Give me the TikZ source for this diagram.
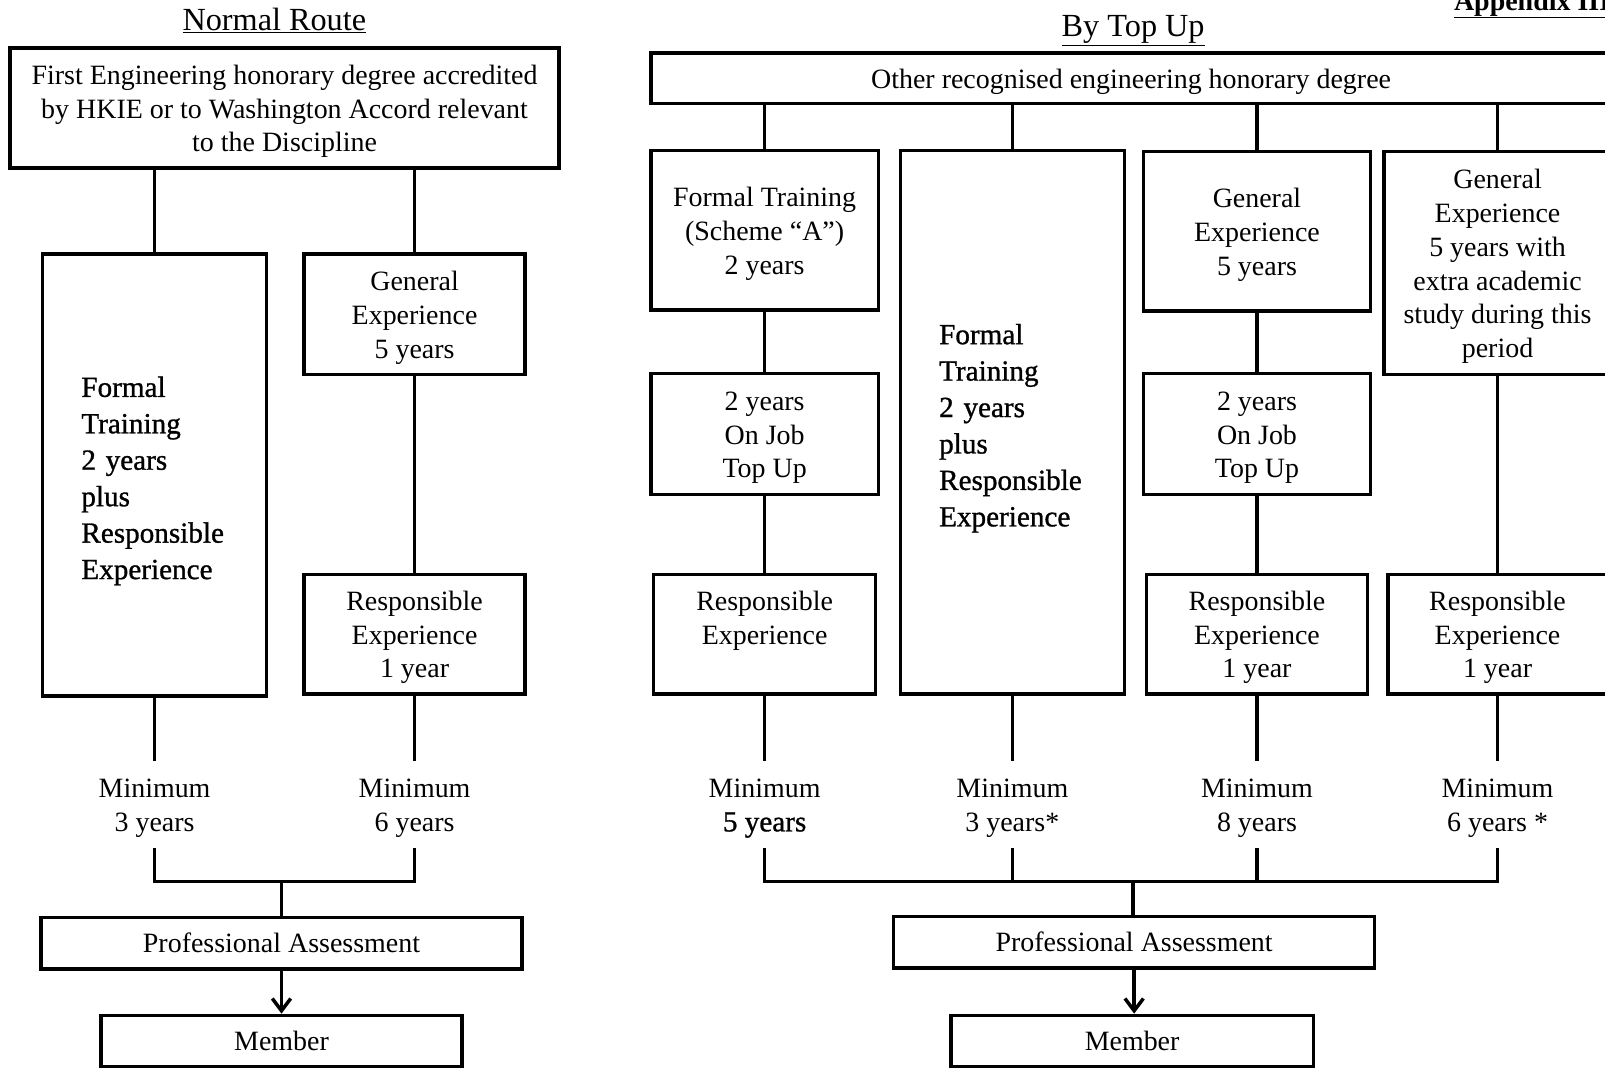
\documentclass[tikz,border=0pt]{standalone}
\usepackage{fontspec}
\setmainfont{Liberation Serif}
\newfontfamily\heavyfont[FakeBold=1.0]{Liberation Serif}
\usetikzlibrary{arrows.meta}
\newcommand{\toppad}{\rule{0pt}{25.5pt}}

\begin{document}
\begin{tikzpicture}[x=1pt, y=-1pt,
    font=\fontsize{27.3}{33}\selectfont,
    box/.style={draw, line width=3.4pt, align=center, inner sep=0pt},
    bigbox/.style={box, font=\heavyfont\fontsize{28.5}{35.6}\selectfont,
      align=left, text width=143pt, inner xsep=38pt,
      execute at begin node={\rule{0pt}{31.5pt}}},
    minlabel/.style={align=center, inner sep=0pt, minimum height=84pt},
    heading/.style={anchor=base, font=\fontsize{31.5}{36}\selectfont},
    link/.style={line width=3.4pt}]
  \useasboundingbox (0,0) rectangle (1568,1043);
  \clip (0,0) rectangle (1568,1043);

  % normal route
  \node[heading] (routeA) at (268,30) {\underline{Normal Route}};
  \node[box, minimum width=536pt, minimum height=117pt] (degA) at (278,105.5)
    {\toppad First Engineering honorary degree accredited\\by HKIE or to Washington Accord relevant\\to the Discipline};
  \node[bigbox, minimum height=432pt] (trainA) at (151,464)
    {Formal\\Training\\2 years\\plus\\Responsible\\Experience};
  \node[box, minimum width=216pt, minimum height=118pt] (genA) at (405,307) {\toppad General\\Experience\\5 years};
  \node[box, minimum width=216pt, minimum height=117pt] (respA) at (405,619.5) {\toppad Responsible\\Experience\\1 year};
  \node[minlabel] (minA1) at (151,786) {\toppad Minimum\\3 years};
  \node[minlabel] (minA2) at (405,786) {\toppad Minimum\\6 years};
  \coordinate (joinA) at (275,861);
  \node[box, minimum width=470pt, minimum height=50pt] (assessA) at (275,921.5) {Professional Assessment};
  \node[box, minimum width=353pt, minimum height=50pt] (memberA) at (275,1017) {Member};

  \draw[link] (trainA |- degA.south) -- (trainA.north);
  \draw[link] (genA |- degA.south) -- (genA.north);
  \draw[link] (genA) -- (respA);
  \draw[link] (trainA) -- (minA1);
  \draw[link] (respA) -- (minA2);
  \draw[link] (minA1.south) |- (joinA) -| (minA2.south);
  \draw[link] (joinA) -- (assessA);
  \draw[link, -{Straight Barb[length=12pt, width=18pt]}] (assessA) -- (memberA);

  % by top up
  \node[heading] (routeB) at (1107,36) {\underline{By Top Up}};
  \node[anchor=base west, font=\bfseries\fontsize{27.3}{33}\selectfont] (appx) at (1417,10) {\underline{Appendix III}};
  \node[box, minimum width=938pt, minimum height=49pt] (degB) at (1105,76.5) {\toppad Other recognised engineering honorary degree};
  \node[box, minimum width=222pt, minimum height=156pt] (schemeB) at (747,225) {\toppad Formal Training\\(Scheme “A”)\\2 years};
  \node[box, minimum width=222pt, minimum height=118pt] (jobB) at (747,424) {\toppad 2 years\\On Job\\Top Up};
  \node[box, minimum width=217pt, minimum height=117pt] (respB) at (747,619.5) {\toppad Responsible\\Experience\\\rule[-6pt]{0pt}{18pt}};
  \node[bigbox, minimum height=531pt] (trainB) at (989,412.5)
    {Formal\\Training\\2 years\\plus\\Responsible\\Experience};
  \node[box, minimum width=222pt, minimum height=156pt] (genC) at (1228,226) {\toppad General\\Experience\\5 years};
  \node[box, minimum width=222pt, minimum height=118pt] (jobC) at (1228,424) {\toppad 2 years\\On Job\\Top Up};
  \node[box, minimum width=216pt, minimum height=117pt] (respC) at (1228,619.5) {\toppad Responsible\\Experience\\1 year};
  \node[box, minimum width=222pt, minimum height=218pt] (genD) at (1463,257)
    {\toppad General\\Experience\\5 years with\\extra academic\\study during this\\period};
  \node[box, minimum width=214pt, minimum height=117pt] (respD) at (1463,619.5) {\toppad Responsible\\Experience\\1 year};
  \node[minlabel] (minB) at (747,786) {\toppad Minimum\\{\heavyfont\fontsize{28.5}{33}\selectfont 5 years\hspace{14pt}}};
  \node[minlabel] (minC) at (989,786) {\toppad Minimum\\3 years*};
  \node[minlabel] (minD) at (1228,786) {\toppad Minimum\\8 years};
  \node[minlabel] (minE) at (1463,786) {\toppad Minimum\\6 years *};
  \coordinate (joinB) at (1107,861);
  \node[box, minimum width=470pt, minimum height=50pt] (assessB) at (1108,920.5) {Professional Assessment};
  \node[box, minimum width=354pt, minimum height=50pt] (memberB) at (1106,1017) {Member};

  \draw[link] (schemeB |- degB.south) -- (schemeB.north);
  \draw[link] (trainB |- degB.south) -- (trainB.north);
  \draw[link] (genC |- degB.south) -- (genC.north);
  \draw[link] (genD |- degB.south) -- (genD.north);
  \draw[link] (schemeB) -- (jobB);
  \draw[link] (jobB) -- (respB);
  \draw[link] (genC) -- (jobC);
  \draw[link] (jobC) -- (respC);
  \draw[link] (genD) -- (respD);
  \draw[link] (respB) -- (minB);
  \draw[link] (trainB) -- (minC);
  \draw[link] (respC) -- (minD);
  \draw[link] (respD) -- (minE);
  \draw[link] (minB.south) |- (joinB) -| (minE.south);
  \draw[link] (minC.south) -- (minC.south |- joinB);
  \draw[link] (minD.south) -- (minD.south |- joinB);
  \draw[link] (joinB) -- (joinB |- assessB.north);
  \draw[link, -{Straight Barb[length=12pt, width=18pt]}] (assessB.south) -- (assessB.south |- memberB.north);
\end{tikzpicture}
\end{document}
